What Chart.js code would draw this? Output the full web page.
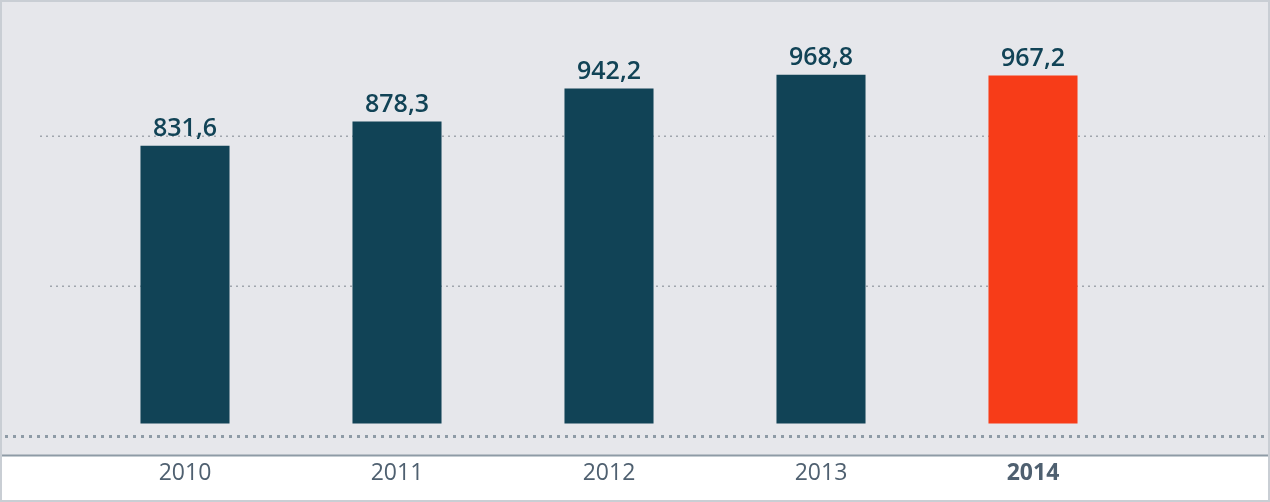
<!DOCTYPE html>
<html><head><meta charset="utf-8">
<script src="https://cdn.jsdelivr.net/npm/chart.js@4"></script>
<style>html,body{margin:0;padding:0;background:#fff}#w{width:1270px;height:502px;position:relative}</style>
</head><body><div id="w"><canvas id="c"></canvas></div>
<script>
const categories=['2010','2011','2012','2013','2014'];
const values=[831.6,878.3,942.2,968.8,967.2];
const labels=['831,6','878,3','942,2','968,8','967,2'];
const barColors=['#114356','#114356','#114356','#114356','#f73c18'];
const gridValues=[270,560,850];
const barBase=295;

const bgPlugin={id:'bg',beforeDraw(ch){const c=ch.ctx,y=ch.scales.y;const bottom=ch.chartArea.bottom+19;
 c.save();c.fillStyle='#e6e7eb';c.fillRect(0,0,1270,bottom);
 c.strokeStyle='#8e9ba6';c.lineWidth=2;c.beginPath();c.moveTo(0,bottom);c.lineTo(1270,bottom);c.stroke();
 c.strokeStyle='#c9ced4';c.lineWidth=2;c.strokeRect(1,1,1268,500);
 gridValues.forEach((v,i)=>{const p=y.getPixelForValue(v);c.setLineDash(i==0?[3,5]:[2,4]);c.strokeStyle=i==0?'#8e9ba6':'#a0a6ad';c.lineWidth=i==0?3:1.5;c.beginPath();c.moveTo(i==0?5:(i==1?50:40),p);c.lineTo(1265,p);c.stroke();});
 c.restore();},
 afterDatasetsDraw(ch){const c=ch.ctx;const m=ch.getDatasetMeta(0);c.save();c.font='600 25px "Open Sans"';c.fillStyle='#114356';c.textAlign='center';c.textBaseline='bottom';
 m.data.forEach((b,i)=>c.fillText(labels[i],b.x,b.y-4));c.restore();}};

new Chart(document.getElementById('c'),{type:'bar',
data:{labels:categories,datasets:[{data:values.map(v=>[barBase,v]),backgroundColor:barColors,barPercentage:0.42,categoryPercentage:1}]},
options:{responsive:true,maintainAspectRatio:false,animation:false,
 layout:{padding:{left:79,right:131,top:0,bottom:0}},
 plugins:{legend:{display:false},tooltip:{enabled:false}},
 scales:{y:{min:270,max:1113,display:false},
 x:{grid:{display:false},border:{display:false},ticks:{padding:15,color:'#4f6070',font:(ctx)=>({family:'"Open Sans"',size:23,weight:ctx.index===4?'bold':'normal'})}}}},
plugins:[bgPlugin]});
</script></body></html>
